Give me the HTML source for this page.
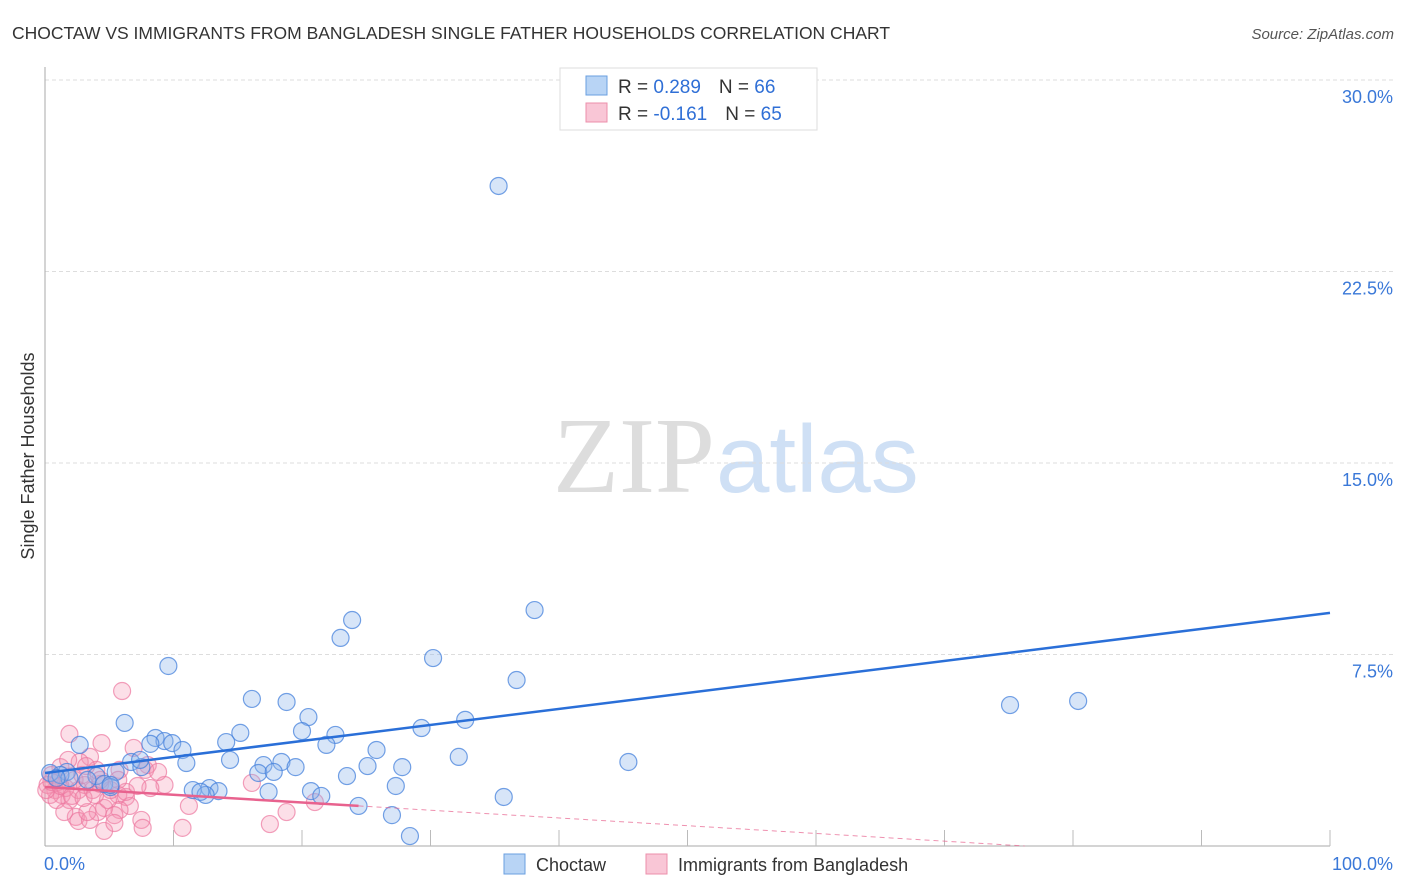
<!DOCTYPE html>
<html><head><meta charset="utf-8"><style>
body{margin:0;background:#fff;font-family:"Liberation Sans",sans-serif;}
svg{display:block}
</style></head><body>
<svg width="1406" height="892" xmlns="http://www.w3.org/2000/svg">
<text x="12" y="39" font-size="17.5" fill="#333">CHOCTAW VS IMMIGRANTS FROM BANGLADESH SINGLE FATHER HOUSEHOLDS CORRELATION CHART</text>
<text x="1394" y="39" font-size="15" fill="#555" font-style="italic" text-anchor="end">Source: ZipAtlas.com</text>
<g>
<text x="553" y="492" font-family="Liberation Serif,serif" font-size="108" fill="#ddd">ZIP</text>
<text x="716" y="492" font-size="96" fill="#cfe0f5">atlas</text>
</g>
<g id="grid"></g>
<g id="axes"></g>
<g id="marks"></g>
<text transform="translate(34,456) rotate(-90)" font-size="18" fill="#333" text-anchor="middle">Single Father Households</text>
<g>
<rect x="560" y="68" width="257" height="62" fill="#fff" stroke="#ddd"/>
<rect x="586" y="76" width="21" height="19" fill="#b8d4f5" stroke="#6a9fe0"/>
<rect x="586" y="103" width="21" height="19" fill="#f9c6d6" stroke="#ec8fab"/>
<text x="618" y="93" font-size="19" fill="#333">R = <tspan fill="#2f6fd6">0.289</tspan><tspan dx="18">N = </tspan><tspan fill="#2f6fd6">66</tspan></text>
<text x="618" y="120" font-size="19" fill="#333">R = <tspan fill="#2f6fd6">-0.161</tspan><tspan dx="18">N = </tspan><tspan fill="#2f6fd6">65</tspan></text>
</g>
<g>
<rect x="504" y="854" width="21" height="20" fill="#b8d4f5" stroke="#6a9fe0"/>
<text x="536" y="871" font-size="18" fill="#333">Choctaw</text>
<rect x="646" y="854" width="21" height="20" fill="#f9c6d6" stroke="#ec8fab"/>
<text x="678" y="871" font-size="18" fill="#333">Immigrants from Bangladesh</text>
</g>
</svg>
<script>
const yTicks=[0,7.5,15,22.5,30];
const yTickLabels=["","7.5%","15.0%","22.5%","30.0%"];
const xLabels=["0.0%","100.0%"];
const blueX=[35.3,38.1,23.9,23.0,30.2,36.7,9.6,75.1,80.4,16.1,18.8,6.2,20.5,32.7,15.2,29.3,20.0,22.6,8.6,9.3,2.7,9.9,8.2,14.1,10.7,25.8,32.2,45.4,21.9,11.0,6.7,7.5,14.4,17.0,18.4,19.5,25.1,27.8,16.6,17.8,23.5,1.7,0.4,1.2,4.0,5.5,4.6,3.3,5.1,11.5,12.8,13.5,12.5,12.1,17.4,20.7,21.5,27.3,35.7,24.4,27.0,28.4,5.1,1.9,0.9,7.4];
const blueY=[25.85,9.24,8.85,8.15,7.36,6.50,7.05,5.52,5.68,5.76,5.64,4.82,5.05,4.94,4.43,4.62,4.50,4.35,4.23,4.11,3.96,4.03,4.00,4.07,3.76,3.76,3.49,3.29,3.96,3.25,3.29,3.09,3.37,3.17,3.29,3.09,3.13,3.09,2.86,2.90,2.74,2.90,2.86,2.78,2.74,2.90,2.43,2.59,2.31,2.19,2.27,2.15,2.00,2.12,2.12,2.15,1.96,2.35,1.92,1.57,1.21,0.39,2.39,2.66,2.66,3.37];
const pinkX=[6.0,1.9,4.4,6.9,3.5,2.7,5.8,8.0,7.8,1.2,0.5,0.8,1.3,1.9,2.6,3.1,0.2,0.4,1.0,1.6,3.7,4.3,2.3,4.0,9.3,8.2,5.7,6.3,6.6,5.8,4.6,4.1,2.4,2.6,3.5,4.9,5.4,7.5,7.6,10.7,4.6,5.4,11.2,16.1,17.5,18.8,21.0,6.3,1.8,2.9,0.9,1.5,3.3,8.8,0.1,0.5,1.2,2.1,3.0,3.9,5.1,7.2,5.7,3.2,4.3];
const pinkY=[6.07,4.39,4.03,3.84,3.49,3.29,2.98,3.17,2.98,3.09,2.78,2.19,2.00,1.80,2.19,2.39,2.39,2.00,2.51,2.27,2.19,2.43,2.59,2.98,2.39,2.27,2.00,1.92,1.57,1.41,1.49,1.33,1.14,0.98,1.02,1.80,1.21,1.02,0.71,0.71,0.59,0.90,1.57,2.47,0.86,1.33,1.72,2.12,3.37,2.78,1.80,1.33,1.33,2.90,2.19,2.51,2.35,1.96,1.88,2.00,2.19,2.35,2.59,3.13,2.59];
const blueTrend=[2.86,9.13];   // y at x=0 and x=100
const pinkTrend=[2.31,-0.72];  // y at x=0 and x=100
const pinkSolidEnd=24.4;
const NS="http://www.w3.org/2000/svg";
const X0=45,X1=1330,Y0=846,Y30=80;
const sx=v=>X0+(X1-X0)*v/100;
const sy=v=>Y0-(Y0-Y30)*v/30;
function mk(parent,tag,attrs){const e=document.createElementNS(NS,tag);for(const k in attrs)e.setAttribute(k,attrs[k]);document.getElementById(parent).appendChild(e);return e;}
yTicks.forEach((t,i)=>{
 if(t>0){const g=mk('grid','line',{x1:X0,x2:1394,y1:sy(t),y2:sy(t),stroke:'#ddd','stroke-dasharray':'4,3'});
 
 
 const l=mk('grid','text',{x:1393,y:sy(t)+23,'font-size':18,fill:'#3a78d8','text-anchor':'end'});l.textContent=yTickLabels[i];
 
 }
});
const a1=mk('axes','line',{x1:X0,x2:X0,y1:67,y2:Y0,stroke:'#aaa'});


const a2=mk('axes','line',{x1:X0,x2:X1,y1:Y0,y2:Y0,stroke:'#aaa'});


for(let i=1;i<=10;i++){const t=mk('axes','line',{x1:sx(i*10),x2:sx(i*10),y1:Y0-16,y2:Y0,stroke:'#bbb'});
 
 }
const xl0=mk('axes','text',{x:44,y:870,'font-size':18,fill:'#3a78d8'});xl0.textContent=xLabels[0];


const xl1=mk('axes','text',{x:1393,y:870,'font-size':18,fill:'#3a78d8','text-anchor':'end'});xl1.textContent=xLabels[1];


pinkX.forEach((x,i)=>{const c=mk('marks','circle',{cx:sx(x),cy:sy(pinkY[i]),r:8.5,fill:'rgba(244,150,180,0.3)',stroke:'rgba(236,120,160,0.7)','stroke-width':1.2});
 
 });
blueX.forEach((x,i)=>{const c=mk('marks','circle',{cx:sx(x),cy:sy(blueY[i]),r:8.5,fill:'rgba(140,180,235,0.35)',stroke:'rgba(70,130,220,0.75)','stroke-width':1.2});
 
 });
const bt=mk('marks','line',{x1:sx(0),y1:sy(blueTrend[0]),x2:sx(100),y2:sy(blueTrend[1]),stroke:'#2a6fd8','stroke-width':2.5});


const pf=x=>pinkTrend[0]+(pinkTrend[1]-pinkTrend[0])*x/100;
const xz=Math.min(100,pinkTrend[0]/(pinkTrend[0]-pinkTrend[1])*100);
const pt=mk('marks','line',{x1:sx(0),y1:sy(pf(0)),x2:sx(pinkSolidEnd),y2:sy(pf(pinkSolidEnd)),stroke:'#e8628e','stroke-width':2.5});


const pd=mk('marks','line',{x1:sx(pinkSolidEnd),y1:sy(pf(pinkSolidEnd)),x2:sx(xz),y2:sy(Math.max(0,pf(xz))),stroke:'#e8628e','stroke-width':1,'stroke-dasharray':'5,4',opacity:0.7});


</script>
</body></html>
